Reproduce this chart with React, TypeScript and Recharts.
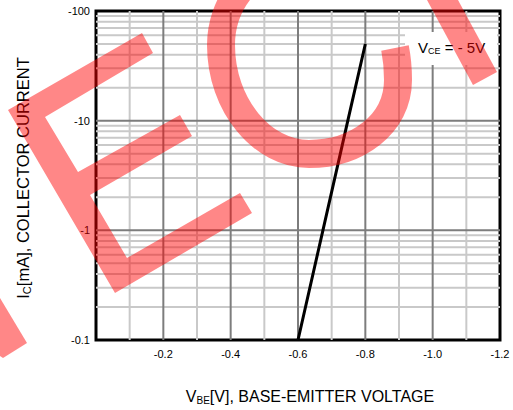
import React from 'react';
import { LineChart, Line, XAxis, YAxis, ReferenceLine, ReferenceArea } from 'recharts';

// ---- data (values are negative as labelled) ----
const vbeCurve = [-0.6, -0.674, -0.748, -0.8];
const icCurve = [-0.1, -1, -10, -50];

const vbeTicks = [-0.2, -0.4, -0.6, -0.8, -1.0, -1.2];
const vbeTickLabels = ['-0.2', '-0.4', '-0.6', '-0.8', '-1.0', '-1.2'];
const icTicks = [-0.1, -1, -10, -100];
const icTickLabels = ['-0.1', '-1', '-10', '-100'];

const vbeMajorGrid = [-0.2, -0.4, -0.6, -0.8, -1.0];
const vbeMinorGrid = [-0.1, -0.3, -0.5, -0.7, -0.9, -1.1];
const icMajorGrid = [-1, -10];
const icMinorGrid = [
  -0.2, -0.3, -0.4, -0.5, -0.6, -0.7, -0.8, -0.9,
  -2, -3, -4, -5, -6, -7, -8, -9,
  -20, -30, -40, -50, -60, -70, -80, -90,
];

const vbeDomain = [0, -1.2];
const icDomain = [-0.1, -100];

const mag = (v: number) => Math.abs(v);

const data = vbeCurve.map((v, i) => ({ vbe: mag(v), ic: mag(icCurve[i]) }));

const FONT = '"Liberation Sans", Arial, Helvetica, sans-serif';
const MAJOR = '#7d7d7d';
const MINOR = '#c9c9c9';
const WM = 'rgba(255,0,0,0.47)';

const xLabel = (v: number) => {
  const i = vbeTicks.findIndex((t) => Math.abs(mag(t) - v) < 1e-6);
  return i >= 0 ? vbeTickLabels[i] : '';
};
const yLabel = (v: number) => {
  const i = icTicks.findIndex((t) => Math.abs(mag(t) - v) < 1e-9);
  return i >= 0 ? icTickLabels[i] : '';
};

export default function App() {
  return (
    <div style={{ position: 'absolute', left: 0, top: 0, width: 513, height: 410, background: '#fff' }}>
      <LineChart
        width={513}
        height={410}
        data={data}
        margin={{ top: 11, right: 13, bottom: 40, left: 0 }}
      >
        <XAxis
          dataKey="vbe"
          type="number"
          domain={[mag(vbeDomain[0]), mag(vbeDomain[1])]}
          ticks={vbeTicks.map(mag)}
          tickFormatter={xLabel}
          axisLine={false}
          tickLine={false}
          tickSize={8}
          tickMargin={2}
          height={30}
          allowDataOverflow
          tick={{ fill: '#000', fontSize: 11, fontFamily: FONT }}
        />
        <YAxis
          dataKey="ic"
          type="number"
          scale="log"
          domain={[mag(icDomain[0]), mag(icDomain[1])]}
          ticks={icTicks.map(mag)}
          tickFormatter={yLabel}
          axisLine={false}
          tickLine={false}
          tickSize={4}
          tickMargin={2}
          width={96}
          allowDataOverflow
          tick={{ fill: '#000', fontSize: 11, fontFamily: FONT }}
        />
        {icMinorGrid.map((v) => (
          <ReferenceLine key={'hm' + v} y={mag(v)} stroke={MINOR} strokeWidth={2} />
        ))}
        {vbeMinorGrid.map((v) => (
          <ReferenceLine key={'vm' + v} x={mag(v)} stroke={MINOR} strokeWidth={2} />
        ))}
        {icMajorGrid.map((v) => (
          <ReferenceLine key={'hM' + v} y={mag(v)} stroke={MAJOR} strokeWidth={2} />
        ))}
        {vbeMajorGrid.map((v) => (
          <ReferenceLine key={'vM' + v} x={mag(v)} stroke={MAJOR} strokeWidth={2} />
        ))}
        <ReferenceArea
          x1={mag(vbeDomain[0])}
          x2={mag(vbeDomain[1])}
          y1={mag(icDomain[0])}
          y2={mag(icDomain[1])}
          fill="none"
          fillOpacity={0}
          stroke="#000"
          strokeWidth={3}
        />
        <Line
          type="linear"
          dataKey="ic"
          stroke="#000"
          strokeWidth={3}
          dot={false}
          isAnimationActive={false}
        />
      </LineChart>
      <svg
        width={513}
        height={410}
        style={{ position: 'absolute', left: 0, top: 0, pointerEvents: 'none' }}
      >
        {/* annotation */}
        <rect x={405} y={32} width={92} height={33} fill="#fff" />
        <text x={418} y={53} fontFamily={FONT} fontSize={15} fill="#000">
          V<tspan fontSize={9} dy={1}>CE</tspan>
          <tspan dy={-1}> = - 5V</tspan>
        </text>
        {/* axis titles */}
        <text x={310} y={402} textAnchor="middle" fontFamily={FONT} fontSize={16} fill="#000">
          V<tspan fontSize={10} dy={2}>BE</tspan>
          <tspan dy={-2}>[V], BASE-EMITTER VOLTAGE</tspan>
        </text>
        <text
          transform="translate(28.5,178) rotate(-90)"
          textAnchor="middle"
          fontFamily={FONT}
          fontSize={16.5}
          fill="#000"
        >
          I<tspan fontSize={11} dy={2}>C</tspan>
          <tspan dy={-2}>[mA], COLLECTOR CURRENT</tspan>
        </text>
        {/* watermark */}
        <polygon
          fill={WM}
          points="8,110 142,33 153,53 45,117 78,172 180,115 192,136 90,195 127,258 240,193 252,213 115,293"
        />
        <polygon fill={WM} points="0,298 27,343 3,358 0,356" />
        <path
          d="M240,-10 C228,5 221,25 221,45 C221,105 262,154 309,154 C356,154 398,125 398,80 C398,68 397,58 395,48"
          fill="none"
          stroke={WM}
          strokeWidth={28}
        />
        <polygon fill={WM} points="427,0 458,0 497,72 473,85" />
      </svg>
    </div>
  );
}
